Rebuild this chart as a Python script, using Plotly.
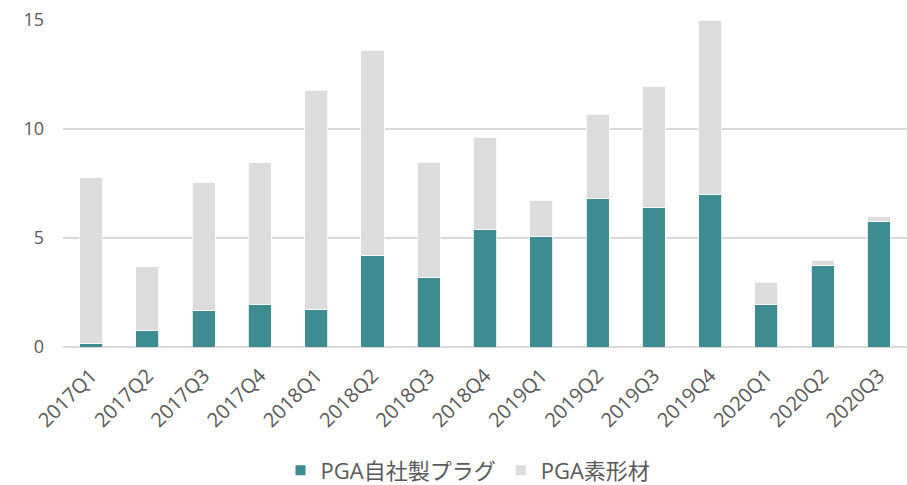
import plotly.graph_objects as go

categories = ["2017Q1", "2017Q2", "2017Q3", "2017Q4", "2018Q1", "2018Q2", "2018Q3", "2018Q4",
              "2019Q1", "2019Q2", "2019Q3", "2019Q4", "2020Q1", "2020Q2", "2020Q3"]
plug = [0.18, 0.78, 1.68, 1.94, 1.73, 4.21, 3.21, 5.41, 5.05, 6.82, 6.41, 7.0, 1.96, 3.76, 5.78]
totals = [7.77, 3.67, 7.55, 8.46, 11.78, 13.62, 8.47, 9.62, 6.73, 10.67, 11.97, 15.0, 2.97, 3.98, 5.98]
material = [round(t - p, 2) for t, p in zip(totals, plug)]

font_family = "Open Sans, Noto Sans CJK JP, sans-serif"

fig = go.Figure()
fig.add_trace(go.Bar(x=categories, y=plug, name="PGA自社製プラグ",
                     marker=dict(color="#3D8C91", line=dict(color="#FFFFFF", width=0.8))))
fig.add_trace(go.Bar(x=categories, y=material, name="PGA素形材",
                     marker=dict(color="#DCDCDC", line=dict(color="#FFFFFF", width=0.8))))

fig.update_layout(
    barmode="stack",
    bargap=0.59,
    width=907, height=485,
    margin=dict(l=63, r=0, t=20, b=138, autoexpand=False),
    plot_bgcolor="white", paper_bgcolor="white",
    font=dict(family=font_family, color="#595959"),
    showlegend=True,
    legend=dict(orientation="h", x=0.516, xanchor="center", xref="container",
                y=0.03, yanchor="middle", yref="container",
                font=dict(size=22, color="#595959"), traceorder="normal",
                itemsizing="constant", itemwidth=30),
    xaxis=dict(tickangle=-45, tickfont=dict(size=20, color="#595959"),
               showgrid=False, showline=False, ticks="", automargin=False,
               ticklabelstandoff=12),
    yaxis=dict(range=[0, 15], tickvals=[0, 5, 10, 15], tickfont=dict(size=18, color="#595959"),
               showgrid=True, gridcolor="#D9D9D9", gridwidth=1.5,
               zeroline=True, zerolinecolor="#D9D9D9", zerolinewidth=1.5,
               ticks="", ticklabelstandoff=18, automargin=False),
)

fig.write_html("out.html", config={"displayModeBar": False},
               post_script="document.body.style.margin='0';")
